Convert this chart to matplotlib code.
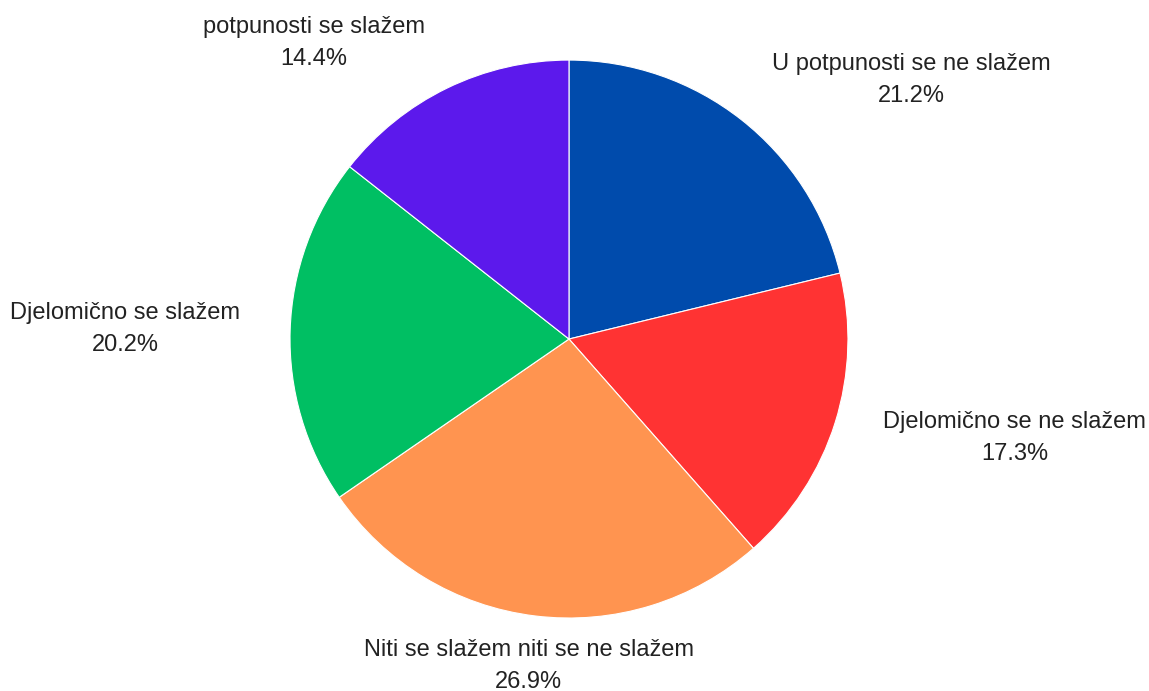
import numpy as np
import matplotlib.pyplot as plt

plt.rcParams['font.family'] = ['Liberation Sans', 'DejaVu Sans']

labels = ["U potpunosti se ne slažem", "Djelomično se ne slažem",
          "Niti se slažem niti se ne slažem", "Djelomično se slažem",
          "potpunosti se slažem"]
values = [21.2, 17.3, 26.9, 20.2, 14.4]
colors = ["#004BAC", "#FF3333", "#FF9450", "#00BF63", "#5C19EC"]

fig = plt.figure(figsize=(11.49, 6.91), dpi=100)
ax = fig.add_axes([0.2524, 0.1056, 0.4856, 0.8075])

wedges, _ = ax.pie(values, colors=colors, startangle=90, counterclock=False,
                   wedgeprops=dict(edgecolor="white", linewidth=0.8))
ax.set_xlim(-1, 1)
ax.set_ylim(-1, 1)
ax.set_aspect("equal")

total = sum(values)
for w, lab, v in zip(wedges, labels, values):
    ang = np.deg2rad((w.theta1 + w.theta2) / 2)
    x, y = 1.18 * np.cos(ang), 1.18 * np.sin(ang)
    if abs(np.cos(ang)) < 0.2:
        ha = "center"
    elif x > 0:
        ha = "left"
    else:
        ha = "right"
    ax.text(x, y, f"{lab}\n{v / total * 100:.1f}%", ha=ha, va="center",
            multialignment="center", fontsize=17, color="#222222",
            linespacing=1.6, clip_on=False)

fig.savefig("out.png", dpi=100)
